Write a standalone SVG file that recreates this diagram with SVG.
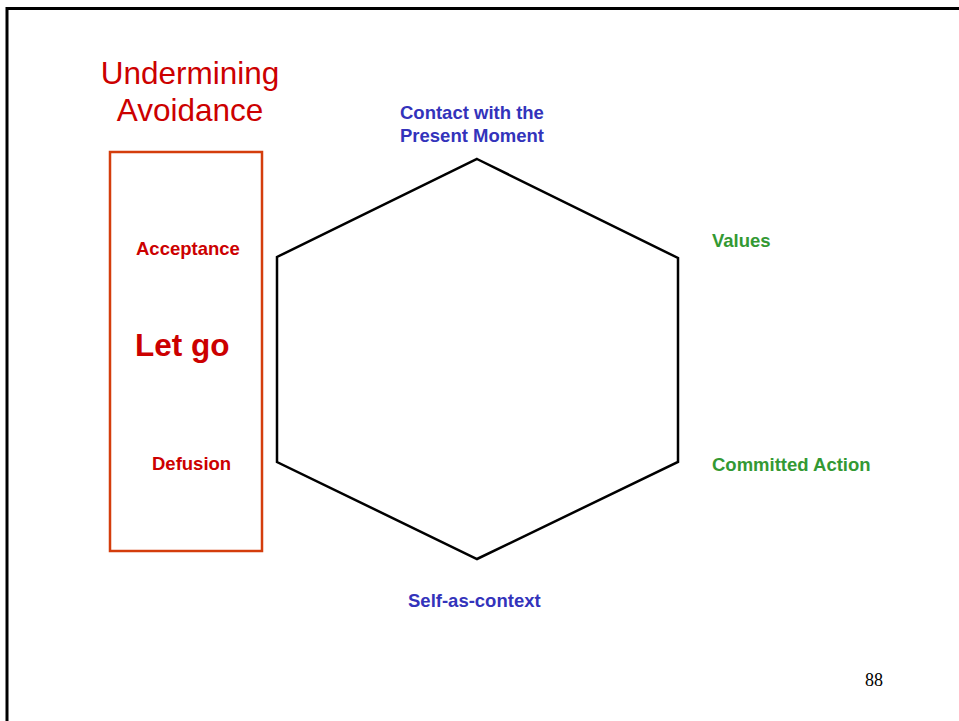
<svg xmlns="http://www.w3.org/2000/svg" width="959" height="721" viewBox="0 0 959 721">
  <style>
    .label { font-family: "Liberation Sans", Arial, sans-serif; font-weight: bold; font-size: 18.5px; }
    .red { fill: #CC0000; }
    .blue { fill: #3333BB; }
    .green { fill: #339933; }
  </style>
  <rect width="959" height="721" fill="#ffffff"/>
  <!-- slide frame -->
  <path d="M7,722 L7,8.5 L960,8.5" fill="none" stroke="#000" stroke-width="3"/>

  <g id="title">
    <text x="190" y="84" text-anchor="middle" font-family="Liberation Sans, Arial, sans-serif" font-size="31.5" fill="#CC0000">Undermining</text>
    <text x="190" y="121" text-anchor="middle" font-family="Liberation Sans, Arial, sans-serif" font-size="31.5" fill="#CC0000">Avoidance</text>
  </g>

  <g id="avoidance-box">
    <rect x="110" y="152" width="152" height="399" fill="none" stroke="#D43D0C" stroke-width="2.5"/>
    <text class="label red" x="136" y="255">Acceptance</text>
    <text x="135" y="356" font-family="Liberation Sans, Arial, sans-serif" font-weight="bold" font-size="31.5" fill="#CC0000">Let go</text>
    <text class="label red" x="152" y="470">Defusion</text>
  </g>

  <g id="hexagon">
    <polygon points="477,159 678,258 678,462 477,559 277,462 277,257" fill="none" stroke="#000" stroke-width="2.5"/>
  </g>

  <g id="present-moment">
    <text class="label blue" x="400" y="119">Contact with the</text>
    <text class="label blue" x="400" y="142">Present Moment</text>
  </g>
  <g id="values">
    <text class="label green" x="712" y="247">Values</text>
  </g>
  <g id="committed-action">
    <text class="label green" x="712" y="471">Committed Action</text>
  </g>
  <g id="self-as-context">
    <text class="label blue" x="408" y="607">Self-as-context</text>
  </g>
  <g id="connectors"></g>

  <text x="865" y="686" font-family="Liberation Serif, Times New Roman, serif" font-size="18" fill="#000">88</text>
</svg>
